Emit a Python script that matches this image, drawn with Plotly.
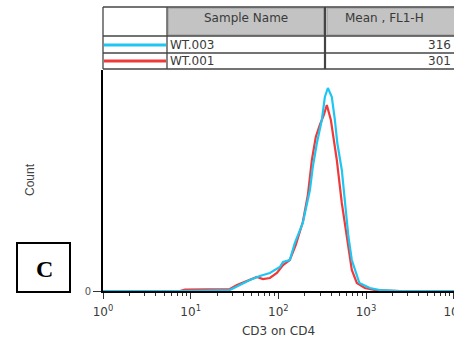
import plotly.graph_objects as go

# ---- data ----
fl1_blue = [1, 7.54, 28.0, 36.4, 47.3, 61.5, 80.0, 104, 113, 135, 154, 190, 229, 247, 275,
            313, 339, 367, 407, 441, 470, 529, 573, 630, 688, 785, 840, 1104, 1435, 2425, 10000]
count_blue = [0, 0, 1, 6, 11, 15, 18, 24, 29, 31, 48, 68, 101, 124, 148,
              171, 194, 203, 194, 171, 148, 121, 88, 54, 31, 16, 8, 3, 1, 0, 0]

fl1_red = [1, 7.54, 8.60, 28.0, 33.7, 47.3, 56.9, 66.6, 80.0, 96.2, 113, 135, 158, 190, 217,
           241, 267, 297, 330, 357, 397, 429, 464, 529, 603, 688, 785, 968, 1259, 2425, 10000]
count_red = [0, 0, 1.5, 2, 6, 11, 14, 12, 13, 18, 26, 31, 46, 69, 96,
             131, 154, 166, 176, 186, 171, 151, 131, 88, 54, 21, 8, 3, 1, 0, 0]

sample_names = ["WT.003", "WT.001"]
sample_colors = ["#1ec6f2", "#f03a3a"]
mean_fl1 = [316, 301]
table_headers = ["Sample Name", "Mean , FL1-H"]

x_tickvals = [1, 10, 100, 1000, 10000]
x_ticktext = ["10<sup>0</sup>", "10<sup>1</sup>", "10<sup>2</sup>", "10<sup>3</sup>", "10<sup>4</sup>"]
x_minor = [k * 10 ** d for d in range(4) for k in range(2, 10)]
x_title = "CD3 on CD4"
y_title = "Count"
panel_label = "C"

# ---- layout geometry (pixels) ----
W, H = 454, 338
L, R, T, B = 103, 0, 70, 47
PW, PH = W - L - R, H - T - B


def px(xp):
    return (xp - L) / PW


def py(yp):
    return (H - B - yp) / PH


fig = go.Figure()
fig.add_trace(go.Scatter(x=fl1_red, y=count_red, mode="lines", name=sample_names[1],
                         line=dict(color=sample_colors[1], width=2.2)))
fig.add_trace(go.Scatter(x=fl1_blue, y=count_blue, mode="lines", name=sample_names[0],
                         line=dict(color=sample_colors[0], width=2.2)))

shapes = []
ann = []
FONT = "DejaVu Sans"
TXT = "#3a3a3a"


def text(t, x, y, xa="center", size=12, color=TXT, family=FONT, angle=0):
    ann.append(dict(text=t, x=px(x), y=py(y), xref="paper", yref="paper",
                    xanchor=xa, yanchor="middle", showarrow=False, textangle=angle,
                    font=dict(family=family, size=size, color=color)))


# table
tx0, tx1 = 103, 456
c1, c2 = 167, 325
ty0, ty1, ty2, ty3 = 7, 36, 53, 69
for a, b in [(c1 + 1, c2 - 1), (c2 + 2, tx1)]:
    shapes.append(dict(type="rect", xref="paper", yref="paper",
                       x0=px(a), x1=px(b), y0=py(ty0 + 1), y1=py(ty1 - 1),
                       fillcolor="#c3c3c3", line=dict(color="#9a9a9a", width=1), layer="below"))
for yy in [ty0, ty1, ty2, ty3]:
    shapes.append(dict(type="line", xref="paper", yref="paper",
                       x0=px(tx0), x1=px(tx1), y0=py(yy), y1=py(yy),
                       line=dict(color="#444444", width=1.3)))
for xx, wdt in [(tx0, 1.3), (c1, 1.3), (c2, 2.2)]:
    shapes.append(dict(type="line", xref="paper", yref="paper",
                       x0=px(xx), x1=px(xx), y0=py(ty0), y1=py(ty3),
                       line=dict(color="#444444", width=wdt)))

text(table_headers[0], (c1 + c2) / 2, 18)
text(table_headers[1], 343, 18, xa="left")

row_y = [45, 61]
for i in range(2):
    shapes.append(dict(type="line", xref="paper", yref="paper",
                       x0=px(tx0 + 1), x1=px(c1 - 1), y0=py(row_y[i]), y1=py(row_y[i]),
                       line=dict(color=sample_colors[i], width=3)))
    text(sample_names[i], c1 + 1, row_y[i], xa="left")
    text(str(mean_fl1[i]), 453, row_y[i], xa="right")

# panel label box
shapes.append(dict(type="rect", xref="paper", yref="paper",
                   x0=px(17), x1=px(70), y0=py(243), y1=py(292),
                   line=dict(color="black", width=2), fillcolor="white"))
text("<b>%s</b>" % panel_label, 44, 269, size=24, color="black", family="Liberation Serif")

# y title
text(y_title, 30, 180, size=12, color="#444",
     family="Liberation Sans Narrow, Liberation Sans", angle=-90)

fig.update_layout(
    width=W, height=H,
    margin=dict(l=L, r=R, t=T, b=B, pad=0, autoexpand=False),
    paper_bgcolor="white", plot_bgcolor="white",
    showlegend=False,
    shapes=shapes, annotations=ann,
    xaxis=dict(type="log", range=[0, 4.003], showgrid=False, zeroline=False,
               showline=True, linecolor="black", linewidth=2, automargin=False,
               ticks="outside", ticklen=6, tickwidth=1, tickcolor="#333",
               tickvals=x_tickvals, ticktext=x_ticktext, ticklabelstandoff=3,
               ticklabeloverflow="allow",
               tickfont=dict(family=FONT, size=12, color=TXT),
               minor=dict(tickvals=x_minor, ticks="outside", ticklen=3, tickwidth=1, tickcolor="#333"),
               title=dict(text=x_title, font=dict(family=FONT, size=12, color=TXT), standoff=12)),
    yaxis=dict(range=[0, PH], showgrid=False, zeroline=False, automargin=False,
               showline=True, linecolor="black", linewidth=2,
               ticks="outside", ticklen=8, tickwidth=1, tickcolor="#333",
               tickvals=[0], ticktext=["0"],
               tickfont=dict(family=FONT, size=10, color="#555")),
)

fig.write_html("out.html", config={"displayModeBar": False},
               post_script="document.body.style.margin='0';")
